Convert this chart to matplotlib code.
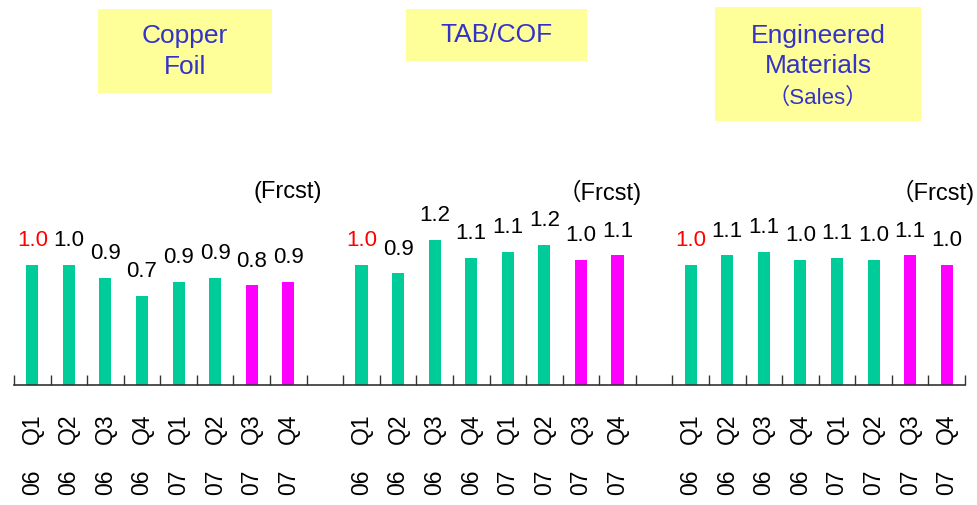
import matplotlib
matplotlib.use("Agg")
import matplotlib.pyplot as plt
from matplotlib.patches import Rectangle
import numpy as np

# ---- data ----
quarters = ["Q1", "Q2", "Q3", "Q4", "Q1", "Q2", "Q3", "Q4"]
years = ["06", "06", "06", "06", "07", "07", "07", "07"]
copper_foil = [1.00, 1.00, 0.89, 0.74, 0.86, 0.89, 0.83, 0.86]
tab_cof = [1.00, 0.93, 1.21, 1.06, 1.11, 1.17, 1.04, 1.08]
eng_materials = [1.00, 1.08, 1.11, 1.04, 1.06, 1.04, 1.08, 1.00]
is_forecast = [False, False, False, False, False, False, True, True]
panels = [copper_foil, tab_cof, eng_materials]
frcst_labels = ["(Frcst)", "\uff08Frcst)", "\uff08Frcst)"]

W, H = 977, 505
DPI = 100
fig = plt.figure(figsize=(W / DPI, H / DPI), dpi=DPI)

def fx(px):
    return px / W

def fy(py):
    return 1 - py / H

base_px = 385
left_px, right_px = 14, 965
unit_px = (right_px - left_px) / 26.0
ax = fig.add_axes([fx(left_px), fy(base_px), fx(right_px - left_px), base_px / H])
ax.set_xlim(0, 26)
ax.set_ylim(0, base_px / 120.0)
ax.patch.set_alpha(0)

GREEN = "#00CC99"
MAGENTA = "#FF00FF"
FONT = ["Liberation Sans", "Noto Sans CJK JP", "DejaVu Sans"]
frcst_right_px = [322, 642, 975]

for p, vals in enumerate(panels):
    offset = p * 9
    xs = np.arange(8) + offset + 0.5
    colors = [MAGENTA if f else GREEN for f in is_forecast]
    ax.bar(xs, vals, width=0.33, color=colors, zorder=2)
    for i, (x, v) in enumerate(zip(xs, vals)):
        ax.annotate(f"{v:.1f}", (x, v), xytext=(0, 10), textcoords="offset points",
                    ha="center", va="bottom", fontsize=16, family=FONT,
                    color="#FF0000" if i == 0 else "black")
        ax.text(x, -0.073, quarters[i], transform=ax.get_xaxis_transform(),
                rotation=90, ha="center", va="top", fontsize=16.5, family=FONT)
        ax.text(x, -0.22, years[i], transform=ax.get_xaxis_transform(),
                rotation=90, ha="center", va="top", fontsize=16.5, family=FONT)
    ax.text((frcst_right_px[p] - left_px) / unit_px, (base_px - 192) / 120.0,
            frcst_labels[p], ha="right", va="center", fontsize=17, family=FONT,
            clip_on=False)

for s in ["top", "left", "right"]:
    ax.spines[s].set_visible(False)
ax.spines["bottom"].set_color("#333333")
ax.spines["bottom"].set_linewidth(1.2)
ax.set_yticks([])
ax.set_xticks(np.arange(0, 27))
ax.set_xticklabels([])
ax.tick_params(axis="x", direction="in", length=7.5, width=1.0, color="#333333")

# ---- title boxes ----
BOX = "#FFFF99"
TITLE = "#3333CC"

def box(x0, y0, x1, y1):
    fig.patches.append(Rectangle((fx(x0), fy(y1)), fx(x1 - x0), (y1 - y0) / H,
                                 transform=fig.transFigure, facecolor=BOX,
                                 edgecolor="none", zorder=0))

box(98, 9, 272, 93)
fig.text(fx(185), fy(36), "Copper", ha="center", va="center", fontsize=19, color=TITLE, family=FONT)
fig.text(fx(185), fy(67), "Foil", ha="center", va="center", fontsize=19, color=TITLE, family=FONT)

box(406, 9, 587, 61)
fig.text(fx(496), fy(35), "TAB/COF", ha="center", va="center", fontsize=19, color=TITLE, family=FONT)

box(715, 7, 921, 121)
fig.text(fx(818), fy(36), "Engineered", ha="center", va="center", fontsize=19, color=TITLE, family=FONT)
fig.text(fx(818), fy(66), "Materials", ha="center", va="center", fontsize=19, color=TITLE, family=FONT)
fig.text(fx(818), fy(98), "\uff08Sales\uff09", ha="center", va="center", fontsize=16, color=TITLE, family=FONT)

fig.savefig("out.png", dpi=DPI)
